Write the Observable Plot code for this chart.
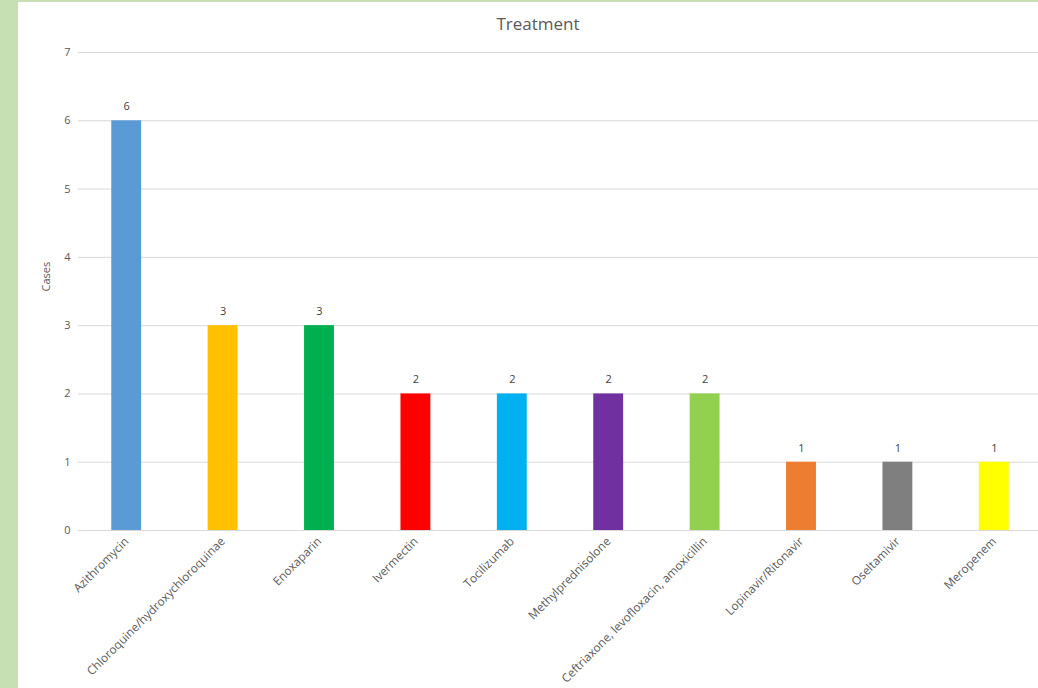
<!DOCTYPE html>
<html>
<head>
<meta charset="utf-8">
<script src="https://cdn.jsdelivr.net/npm/d3@7"></script>
<script src="https://cdn.jsdelivr.net/npm/@observablehq/plot@0.6"></script>
<style>
  html, body { margin: 0; padding: 0; background: #fff; overflow: hidden; }
  #page { width: 1038px; height: 688px; position: relative; overflow: hidden; background: #c6e0b4; }
  #inner { position: absolute; left: 18px; top: 2px; width: 1020px; height: 686px; background: #fff; overflow: hidden; }
  #title { position: absolute; left: 0; top: 10px; width: 1040px; text-align: center; font-family: "Open Sans", "Liberation Sans", sans-serif; font-size: 17px; color: #595959; }
  #chart { position: absolute; left: 0; top: 40px; width: 1024px; }
  #chart svg { max-width: none !important; }
</style>
</head>
<body>
<div id="page"><div id="inner"><div id="title">Treatment</div><div id="chart"></div></div></div>
<script>
const treatments = ["Azithromycin", "Chloroquine/hydroxychloroquinae", "Enoxaparin", "Ivermectin", "Tocilizumab", "Methylprednisolone", "Ceftriaxone, levofloxacin, amoxicillin", "Lopinavir/Ritonavir", "Oseltamivir", "Meropenem"];
const cases = [6, 3, 3, 2, 2, 2, 2, 1, 1, 1];
const barColors = ["#5b9bd5", "#ffc000", "#00b050", "#ff0000", "#00b0f0", "#7030a0", "#92d050", "#ed7d31", "#7f7f7f", "#ffff00"];
const yTicks = [0, 1, 2, 3, 4, 5, 6, 7];

const data = treatments.map((t, i) => ({treatment: t, cases: cases[i]}));

const chart = Plot.plot({
  width: 1024,
  height: 646,
  marginLeft: 60,
  marginRight: 0,
  marginTop: 10,
  marginBottom: 158,
  style: {fontFamily: "'Open Sans', 'Liberation Sans', sans-serif", fontSize: "11px", color: "#595959", background: "transparent"},
  x: {domain: treatments, paddingInner: 0.69, paddingOuter: 0.345, round: false, label: null},
  y: {domain: [0, 7], label: null},
  color: {domain: treatments, range: barColors},
  marks: [
    Plot.gridY(yTicks, {stroke: "#d9d9d9", strokeOpacity: 1, strokeWidth: 1}),
    Plot.barY(data, {x: "treatment", y: "cases", fill: "treatment"}),
    Plot.text(data, {x: "treatment", y: "cases", text: d => String(d.cases), dy: -14, fill: "#404040", fontSize: 11}),
    Plot.axisY(yTicks, {tickSize: 0, tickPadding: 8, tickFormat: d => String(d), label: null, fill: "#595959"}),
    Plot.axisX({tickSize: 0, tickPadding: 9, tickRotate: -45, label: null, fill: "#595959", fontSize: 11.8}),
    Plot.text(["Cases"], {frameAnchor: "left", dx: -32, rotate: -90, fill: "#595959", fontSize: 11})
  ]
});
document.getElementById("chart").appendChild(chart);
</script>
</body>
</html>
